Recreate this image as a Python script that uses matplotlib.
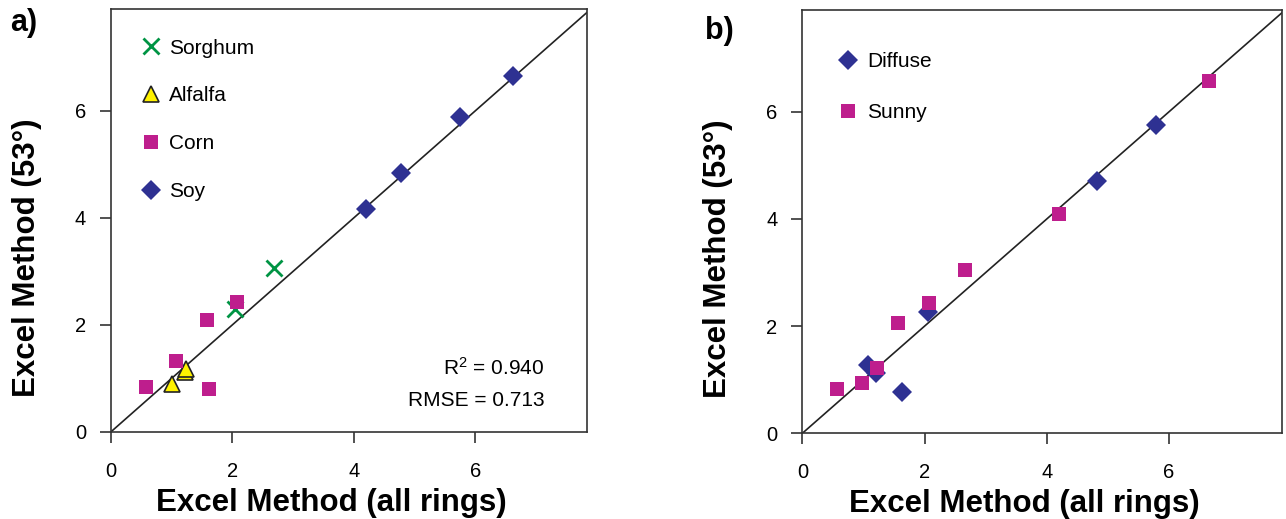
import numpy as np
import matplotlib
matplotlib.use('Agg')
import matplotlib.pyplot as plt

plt.rcParams['font.family'] = ['Liberation Sans', 'DejaVu Sans']
plt.rcParams['mathtext.fontset'] = 'custom'
plt.rcParams['mathtext.rm'] = 'Liberation Sans'
plt.rcParams['mathtext.default'] = 'regular'

# panel a: by crop
sorghum_x = [2.04, 2.69]
sorghum_y = [2.29, 3.06]
alfalfa_x = [1.01, 1.22, 1.24]
alfalfa_y = [0.90, 1.12, 1.18]
corn_x = [0.57, 1.07, 1.58, 1.61, 2.08]
corn_y = [0.84, 1.33, 2.09, 0.80, 2.42]
soy_x = [4.20, 4.78, 5.75, 6.63]
soy_y = [4.16, 4.84, 5.89, 6.65]

# panel b: by sky condition
diffuse_x = [1.08, 1.21, 1.63, 2.05, 4.83, 5.79]
diffuse_y = [1.28, 1.12, 0.77, 2.27, 4.71, 5.75]
sunny_x = [0.56, 0.98, 1.23, 1.57, 2.07, 2.66, 4.20, 6.66]
sunny_y = [0.83, 0.93, 1.21, 2.06, 2.44, 3.05, 4.10, 6.58]

r2_text = 'R$^2$ = 0.940'
rmse_text = 'RMSE = 0.713'
ticks = [0, 2, 4, 6]

blue = '#2E3192'
magenta = '#BE1E8D'
green = '#009444'
yellow = '#FFF200'
spine_col = '#333333'

fig = plt.figure(figsize=(12.86, 5.19), dpi=100)
ax1 = fig.add_axes([0.0863, 0.168, 0.3705, 0.814])
ax2 = fig.add_axes([0.6239, 0.1651, 0.373, 0.8156])


def style_axes(ax):
    ax.set_xlim(0, 7.85)
    ax.set_ylim(0, 7.9)
    ax.plot([0, 8], [0, 8], color='#222222', linewidth=1.2, zorder=1)
    ax.set_xticks(ticks)
    ax.set_yticks(ticks)
    ax.tick_params(direction='out', length=8, width=1.2, color=spine_col,
                   labelsize=14.5, top=False, right=False)
    ax.tick_params(axis='x', pad=13.5)
    ax.tick_params(axis='y', pad=10)
    for s in ax.spines.values():
        s.set_color(spine_col)
        s.set_linewidth(1.2)
    ax.set_xlabel('Excel Method (all rings)', fontsize=22.5, fontweight='bold',
                  labelpad=5)
    ax.set_ylabel('Excel Method (53°)', fontsize=22.5, fontweight='bold',
                  labelpad=23.5)
    # labels in the original sit off-centre, toward the origin
    ax.xaxis.label.set_x(0.463)
    ax.yaxis.label.set_y(0.413)


# a)
style_axes(ax1)
ax1.plot(sorghum_x, sorghum_y, 'x', color=green, ms=12, mew=2,
         label='Sorghum', zorder=3)
ax1.plot(alfalfa_x, alfalfa_y, '^', color=yellow, mec='#222222', mew=1.2,
         ms=11.5, label='Alfalfa', zorder=3)
ax1.plot(corn_x, corn_y, 's', color=magenta, ms=10.5, mew=0,
         label='Corn', zorder=3)
ax1.plot(soy_x, soy_y, 'D', color=blue, ms=10.5, mew=0,
         label='Soy', zorder=3)
ax1.legend(loc='upper left', frameon=False, fontsize=15, numpoints=1,
           handlelength=1.0, handletextpad=0.4, labelspacing=1.39,
           borderaxespad=1.0, bbox_to_anchor=(0.0, 1.0))
ax1.text(0.91, 0.151, r2_text, transform=ax1.transAxes, fontsize=15,
         ha='right', va='center')
ax1.text(0.91, 0.073, rmse_text, transform=ax1.transAxes, fontsize=15,
         ha='right', va='center')
fig.text(0.008, 0.955, 'a)', fontsize=22, fontweight='bold', va='center')

# b)
style_axes(ax2)
ax2.plot(diffuse_x, diffuse_y, 'D', color=blue, ms=10.5, mew=0,
         label='Diffuse', zorder=3)
ax2.plot(sunny_x, sunny_y, 's', color=magenta, ms=10.5, mew=0,
         label='Sunny', zorder=3)
ax2.legend(loc='upper left', frameon=False, fontsize=15, numpoints=1,
           handlelength=1.0, handletextpad=0.4, labelspacing=1.55,
           borderaxespad=1.0, bbox_to_anchor=(0.013, 0.97))
fig.text(0.548, 0.94, 'b)', fontsize=22, fontweight='bold', va='center')

fig.savefig('out.png', dpi=100)
